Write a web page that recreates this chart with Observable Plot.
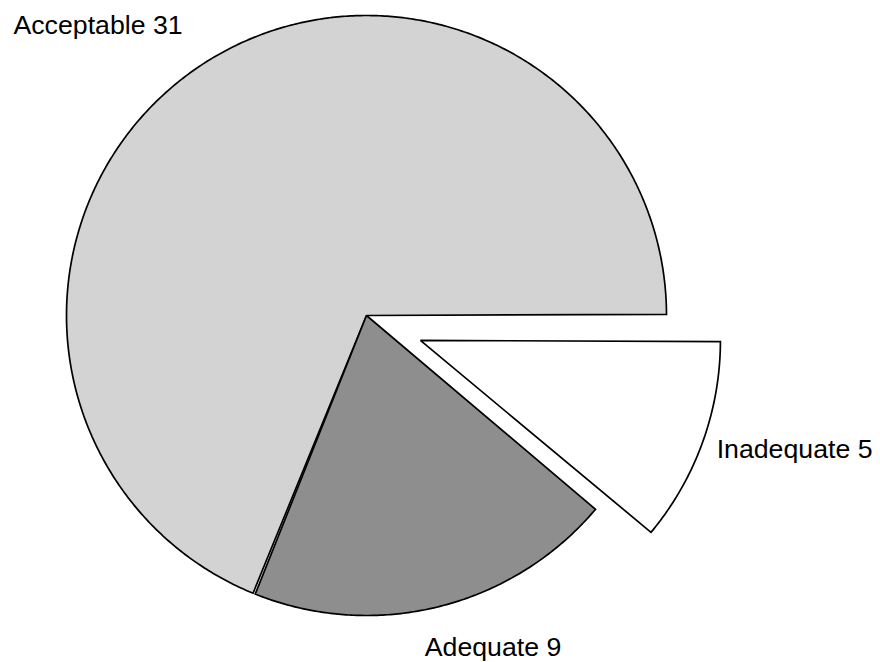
<!DOCTYPE html>
<html>
<head>
<meta charset="utf-8">
<script src="https://cdn.jsdelivr.net/npm/d3@7"></script>
<script src="https://cdn.jsdelivr.net/npm/@observablehq/plot@0.6"></script>
<style>
  html, body { margin: 0; padding: 0; background: #ffffff; }
  #chart svg { display: block; }
</style>
</head>
<body>
<div id="chart"></div>
<script>
// ---- data ----
const categories = ["Acceptable", "Adequate", "Inadequate"];
const counts = [31, 9, 5];
const explode = [0, 0, 0.198];           // fraction of radius
const fills = ["#d3d3d3", "#8e8e8e", "#ffffff"];

// ---- layout ----
const W = 880, H = 662;
const R = 300;                            // radius in px
const CX = 366, CY = 315;                 // pie centre in px
const PAD = 0.45 * Math.PI / 180;         // hairline gap between slices
const EXPLODE_TILT = -4.8 * Math.PI / 180;
const LABEL_R = 1.12;
const FONT = 26.7;
const nudge = {                           // px nudges for labels
  Acceptable: [4, -11],
  Adequate:   [-23, 5.5],
  Inadequate: [-19.5, -5.5]
};

const total = d3.sum(counts);
let acc = 0;
const slices = categories.map((cat, i) => {
  const a0 = acc / total * 2 * Math.PI;
  acc += counts[i];
  const a1 = acc / total * 2 * Math.PI;
  const mid = (a0 + a1) / 2;
  const ed = mid + (explode[i] ? EXPLODE_TILT : 0);
  const ox = explode[i] * Math.cos(ed);
  const oy = explode[i] * Math.sin(ed);
  return {cat, value: counts[i], a0, a1, mid, ox, oy};
});

// polygon outline points for each slice (data units, radius = 1)
const pts = [];
for (const s of slices) {
  const b0 = s.a0 + PAD / 2, b1 = s.a1 - PAD / 2;
  const n = Math.max(8, Math.ceil((b1 - b0) / (Math.PI / 360)));
  pts.push({cat: s.cat, x: s.ox, y: s.oy});
  for (let k = 0; k <= n; k++) {
    const a = b0 + (b1 - b0) * k / n;
    pts.push({cat: s.cat, x: s.ox + Math.cos(a), y: s.oy + Math.sin(a)});
  }
  pts.push({cat: s.cat, x: s.ox, y: s.oy});
}

// labels
const labels = slices.map(s => {
  const [dx, dy] = nudge[s.cat];
  return {
    text: `${s.cat} ${s.value}`,
    x: s.ox + LABEL_R * Math.cos(s.mid) + dx / R,
    y: s.oy + LABEL_R * Math.sin(s.mid) - dy / R,
    anchor: Math.cos(s.mid) < 0 ? "end" : "start"
  };
});

const chart = Plot.plot({
  width: W,
  height: H,
  margin: 0,
  x: {domain: [(0 - CX) / R, (W - CX) / R], range: [0, W], axis: null},
  y: {domain: [(CY - H) / R, CY / R], range: [H, 0], axis: null},
  color: {type: "ordinal", domain: categories, range: fills},
  style: {fontFamily: "'Liberation Sans', Arial, Helvetica, sans-serif", background: "#ffffff", color: "#000000"},
  marks: [
    Plot.line(pts, {
      x: "x", y: "y", z: "cat", fill: "cat",
      stroke: "#000000", strokeWidth: 1.7,
      strokeLinejoin: "miter", strokeMiterlimit: 10, strokeLinecap: "butt",
      curve: "linear"
    }),
    Plot.text(labels.filter(d => d.anchor === "end"), {
      x: "x", y: "y", text: "text", textAnchor: "end", lineAnchor: "middle",
      fontSize: FONT, fill: "#000000"
    }),
    Plot.text(labels.filter(d => d.anchor === "start"), {
      x: "x", y: "y", text: "text", textAnchor: "start", lineAnchor: "middle",
      fontSize: FONT, fill: "#000000"
    })
  ]
});
document.getElementById("chart").appendChild(chart);
</script>
</body>
</html>
